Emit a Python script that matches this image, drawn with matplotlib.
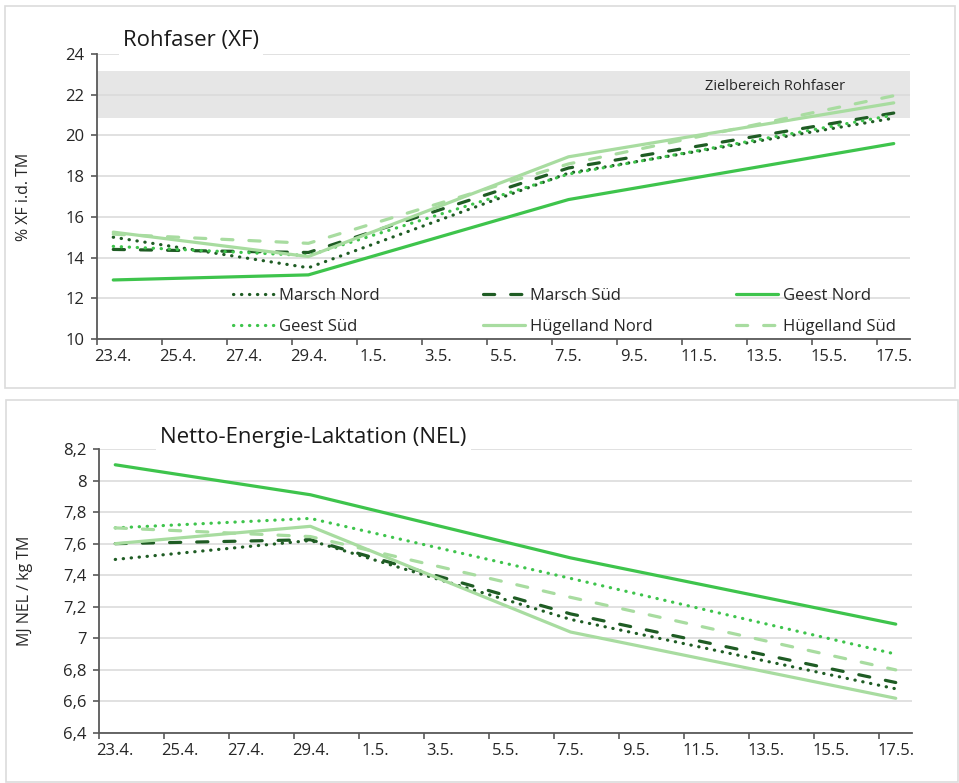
import numpy as np
import pandas as pd
import matplotlib
matplotlib.use('Agg')
import matplotlib.pyplot as plt
from matplotlib.patches import Rectangle
from matplotlib.ticker import FuncFormatter

plt.rcParams['font.family'] = ['Open Sans', 'DejaVu Sans']

# Probenahmetermine
dates = pd.to_datetime(['2024-04-23', '2024-04-29', '2024-05-07', '2024-05-17'])
names = ['Marsch Nord', 'Marsch Süd', 'Geest Nord', 'Geest Süd', 'Hügelland Nord', 'Hügelland Süd']

# Rohfaser, % XF i.d. TM
xf_marsch_nord = [15.0, 13.5, 18.15, 20.85]
xf_marsch_sued = [14.4, 14.25, 18.4, 21.1]
xf_geest_nord = [12.9, 13.15, 16.85, 19.6]
xf_geest_sued = [14.55, 14.1, 18.1, 21.0]
xf_huegel_nord = [15.25, 14.05, 18.95, 21.6]
xf_huegel_sued = [15.15, 14.7, 18.6, 21.95]
xf_ziel = [20.85, 23.15]  # Zielbereich Rohfaser

# Netto-Energie-Laktation, MJ NEL / kg TM
nel_marsch_nord = [7.5, 7.62, 7.12, 6.68]
nel_marsch_sued = [7.6, 7.625, 7.155, 6.72]
nel_geest_nord = [8.1, 7.91, 7.51, 7.09]
nel_geest_sued = [7.7, 7.76, 7.38, 6.9]
nel_huegel_nord = [7.6, 7.71, 7.04, 6.62]
nel_huegel_sued = [7.7, 7.645, 7.26, 6.8]

xf_data = [xf_marsch_nord, xf_marsch_sued, xf_geest_nord, xf_geest_sued, xf_huegel_nord, xf_huegel_sued]
nel_data = [nel_marsch_nord, nel_marsch_sued, nel_geest_nord, nel_geest_sued, nel_huegel_nord, nel_huegel_sued]

dark = '#1f5c24'
mid = '#3ec44c'
light = '#a8dca0'
dot = (0, (0.1, 2.4))
dash = (0, (3.5, 5))
styles = [(dark, dot), (dark, dash), (mid, '-'), (mid, dot), (light, '-'), (light, dash)]

start = dates[0]
x = (dates - start).days.values + 0.5   # Excel-Datumsachse: Punkt in Tagesmitte
tick_days = pd.date_range(start, '2024-05-17', freq='2D')
tick_pos = (tick_days - start).days.values
tick_lab = ['%d.%d.' % (d.day, d.month) for d in tick_days]

grid_c = '#d9d9d9'
axis_c = '#595959'
text_c = '#262626'


def setup_axis(ax, ylim, ystep):
    ax.set_xlim(0, 25)
    ax.set_ylim(*ylim)
    ax.set_yticks(np.arange(ylim[0], ylim[1] + ystep / 2, ystep))
    ax.set_xticks(tick_pos)
    ax.set_xticklabels([])
    ax.set_xticks(tick_pos + 0.5, minor=True)
    ax.set_xticklabels(tick_lab, minor=True)
    ax.tick_params(axis='x', which='minor', length=0, pad=7, labelsize=12, labelcolor=text_c)
    ax.tick_params(axis='x', which='major', length=4, width=1.2, color=axis_c)
    ax.tick_params(axis='y', length=4, width=1.2, color=axis_c, pad=5, labelsize=12, labelcolor=text_c)
    for s in ['top', 'right']:
        ax.spines[s].set_visible(False)
    for s in ['left', 'bottom']:
        ax.spines[s].set_color(axis_c)
        ax.spines[s].set_linewidth(1.3)
    ax.grid(axis='y', color=grid_c, lw=1.1)
    ax.set_axisbelow(True)


def draw_lines(ax, data):
    handles = []
    for vals, (c, ls), name in zip(data, styles, names):
        h, = ax.plot(x, vals, color=c, linestyle=ls, lw=2.3, label=name,
                     dash_capstyle='round', solid_capstyle='round')
        handles.append(h)
    return handles


fig = plt.figure(figsize=(9.59, 7.83), dpi=100)

# Rahmen der beiden Diagramme
fig.add_artist(Rectangle((5 / 959, 1 - 388 / 783), 950 / 959, 382 / 783, transform=fig.transFigure,
                         fill=False, ec='#dcdcdc', lw=1.2))
fig.add_artist(Rectangle((6 / 959, 1 - 782 / 783), 952 / 959, 382 / 783, transform=fig.transFigure,
                         fill=False, ec='#dcdcdc', lw=1.2))

# --- Rohfaser ---
ax1 = fig.add_axes([97 / 959, 1 - 339 / 783, 813 / 959, 285 / 783])
setup_axis(ax1, (10, 24), 2)
ax1.axhspan(xf_ziel[0], xf_ziel[1], color='#e6e6e6', zorder=0.2, lw=0)
ax1.text(0.92, 22.4, 'Zielbereich Rohfaser', transform=ax1.get_yaxis_transform(),
         ha='right', va='center', fontsize=10.5, color=text_c)
h = draw_lines(ax1, xf_data)
ax1.set_ylabel('% XF i.d. TM', fontsize=11.5, color=text_c)
ax1.yaxis.set_label_coords(-0.08, 0.5)
ax1.text(0.032, 1.046, 'Rohfaser (XF)', transform=ax1.transAxes, fontsize=16, color='#1a1a1a',
         ha='left', va='center', bbox=dict(fc='white', ec='none', pad=3))

leg_x = [0.167, 0.475, 0.786]
legs = []
for i in range(3):
    leg = ax1.legend([h[i], h[i + 3]], [names[i], names[i + 3]], loc='upper left',
                     bbox_to_anchor=(leg_x[i], 0.18), frameon=False, fontsize=12,
                     handlelength=2.5, handletextpad=0.3, borderpad=0, borderaxespad=0,
                     labelspacing=0.9, labelcolor=text_c)
    legs.append(leg)
for leg in legs[:-1]:
    ax1.add_artist(leg)

# --- NEL ---
ax2 = fig.add_axes([99 / 959, 1 - 733 / 783, 813 / 959, 284 / 783])
setup_axis(ax2, (6.4, 8.2), 0.2)
ax2.yaxis.set_major_formatter(FuncFormatter(lambda v, p: ('%g' % round(v, 1)).replace('.', ',')))
draw_lines(ax2, nel_data)
ax2.set_ylabel('MJ NEL / kg TM', fontsize=11.5, color=text_c)
ax2.yaxis.set_label_coords(-0.081, 0.5)
ax2.text(0.075, 1.039, 'Netto-Energie-Laktation (NEL)', transform=ax2.transAxes, fontsize=16,
         color='#1a1a1a', ha='left', va='center', bbox=dict(fc='white', ec='none', pad=3))

fig.savefig('out.png', dpi=100)
